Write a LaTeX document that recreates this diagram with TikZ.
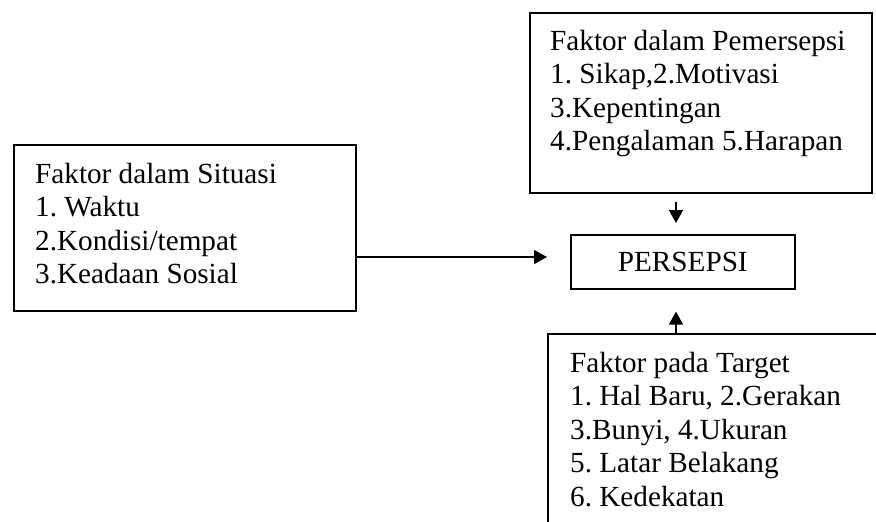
\documentclass[tikz,border=0pt]{standalone}
\usepackage{fontspec}
\setmainfont{Liberation Serif}
\usetikzlibrary{arrows.meta}
\frenchspacing
\begin{document}
\begin{tikzpicture}[x=1pt,y=-1pt,
  frame/.style={draw, line width=1.6pt, inner sep=0pt, anchor=north west},
  boxtext/.style={inner sep=0pt, anchor=north west, align=left,
    font=\fontsize{29.2}{33.4}\selectfont},
  link/.style={line width=1.6pt, -{Triangle[length=13pt,width=14pt]}}]
\useasboundingbox (0,0) rectangle (876,522);
\clip (0,0) rectangle (876,522);

% boxes
\node[frame, minimum width=342pt, minimum height=166pt] (sit) at (13,144) {};
\node[frame, minimum width=342pt, minimum height=180pt] (pem) at (529,12) {};
\node[frame, minimum width=224pt, minimum height=54pt,
      font=\fontsize{29.2}{33.4}\selectfont] (per) at (570,234) {PERSEPSI};
\node[frame, minimum width=360pt, minimum height=220pt] (tgt) at (547,333) {};

% box contents
\node[boxtext] (sittext) at (35,163) {Faktor dalam Situasi\\1. Waktu\\2.Kondisi/tempat\\3.Keadaan Sosial};
\node[boxtext] (pemtext) at (550,30) {Faktor dalam Pemersepsi\\1. Sikap,2.Motivasi\\3.Kepentingan\\4.Pengalaman 5.Harapan};
\node[boxtext] (tgttext) at (570,352) {Faktor pada Target\\1. Hal Baru, 2.Gerakan\\3.Bunyi, 4.Ukuran\\5. Latar Belakang\\6. Kedekatan};

% connectors into PERSEPSI
\coordinate (vx) at (676,0);
\coordinate (hy) at (0,257);
\draw[link, shorten <=8pt, shorten >=11pt] (pem.south -| vx) -- (per.north -| vx);
\draw[link, shorten >=23pt] (sit.east |- hy) -- (per.west |- hy);
\draw[link, shorten >=22pt] (tgt.north -| vx) -- (per.south -| vx);
\end{tikzpicture}
\end{document}
